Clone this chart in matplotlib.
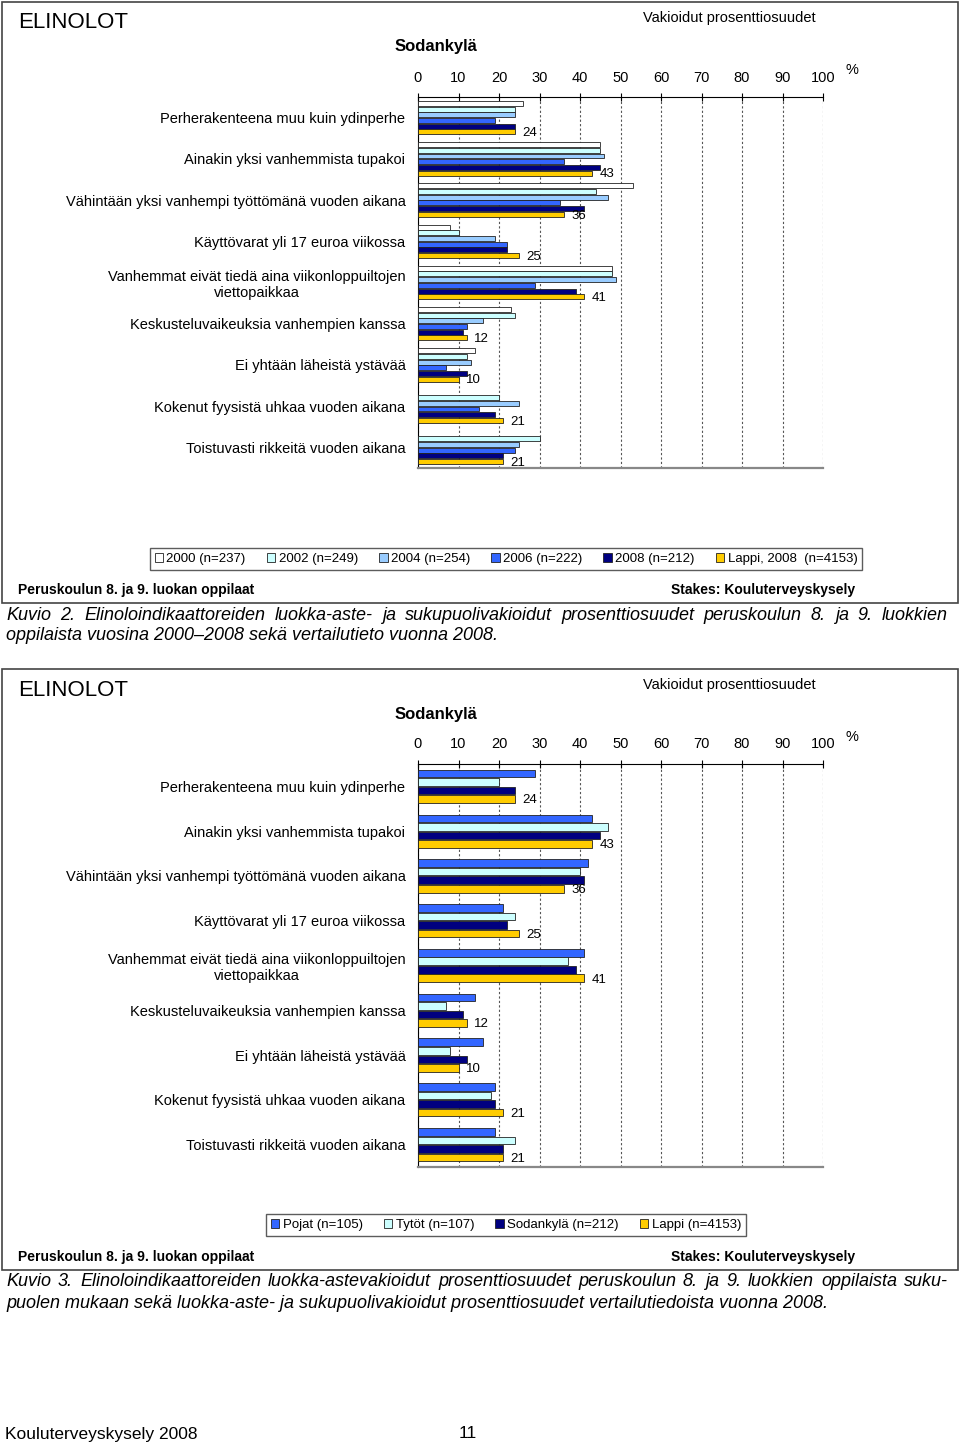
import numpy as np
import matplotlib
matplotlib.use("Agg")
import matplotlib.pyplot as plt
from matplotlib.patches import Patch, Rectangle

plt.rcParams['font.family'] = ['Liberation Sans', 'DejaVu Sans']

W, H = 960, 1444

categories = [
    "Perherakenteena muu kuin ydinperhe",
    "Ainakin yksi vanhemmista tupakoi",
    "Vähintään yksi vanhempi työttömänä vuoden aikana",
    "Käyttövarat yli 17 euroa viikossa",
    "Vanhemmat eivät tiedä aina viikonloppuiltojen\nviettopaikkaa",
    "Keskusteluvaikeuksia vanhempien kanssa",
    "Ei yhtään läheistä ystävää",
    "Kokenut fyysistä uhkaa vuoden aikana",
    "Toistuvasti rikkeitä vuoden aikana",
]

# Kuvio 2: years in Sodankylä + Lappi 2008
y2000 = [26, 45, 53, 8, 48, 23, 14, np.nan, np.nan]
y2002 = [24, 45, 44, 10, 48, 24, 12, 20, 30]
y2004 = [24, 46, 47, 19, 49, 16, 13, 25, 25]
y2006 = [19, 36, 35, 22, 29, 12, 7, 15, 24]
y2008 = [24, 45, 41, 22, 39, 11, 12, 19, 21]
lappi = [24, 43, 36, 25, 41, 12, 10, 21, 21]
labels_top = ["2000 (n=237)", "2002 (n=249)", "2004 (n=254)", "2006 (n=222)",
              "2008 (n=212)", "Lappi, 2008  (n=4153)"]

# Kuvio 3: by sex
pojat = [29, 43, 42, 21, 41, 14, 16, 19, 19]
tytot = [20, 47, 40, 24, 37, 7, 8, 18, 24]
labels_bottom = ["Pojat (n=105)", "Tytöt (n=107)", "Sodankylä (n=212)", "Lappi (n=4153)"]

C_WHITE, C_CYAN, C_LBLUE = "#FFFFFF", "#CCFFFF", "#99CCFF"
C_BLUE, C_NAVY, C_GOLD = "#3366FF", "#000080", "#FFCC00"


def box(x0, y0, x1, y1):
    # pixel box -> figure fraction [left, bottom, width, height]
    return [x0 / W, 1 - y1 / H, (x1 - x0) / W, (y1 - y0) / H]


def fx(x):
    return x / W


def fy(y):
    return 1 - y / H


fig = plt.figure(figsize=(W / 100, H / 100), dpi=100)


def justify(words, x0, x1, y, size, renderer):
    texts = [fig.text(fx(x0), fy(y), w, fontsize=size, style='italic', va='center')
             for w in words]
    widths = [t.get_window_extent(renderer).width for t in texts]
    gap = (x1 - x0 - sum(widths)) / (len(words) - 1)
    x = x0
    for t, w in zip(texts, widths):
        t.set_x(fx(x))
        x += w + gap


def panel(off, series, colors, names, pitch, bh, legend_y, legend_ncol, caption):
    fig.add_artist(Rectangle((fx(2), fy(off + 603)), (956) / W, 601 / H,
                             transform=fig.transFigure, fill=False,
                             edgecolor="#444444", lw=1.2))
    fig.text(fx(18), fy(off + 23), "ELINOLOT", fontsize=16, va='center')
    fig.text(fx(395), fy(off + 47), "Sodankylä", fontsize=12, weight='bold', va='center')
    fig.text(fx(643), fy(off + 18), "Vakioidut prosenttiosuudet", fontsize=10.5, va='center')
    fig.text(fx(845), fy(off + 70), "%", fontsize=10.5, va='center')

    top, bottom = off + 97, off + 468
    if len(series) == 4:
        top, bottom = off + 97, off + 500
    ax = fig.add_axes(box(418, top, 823, bottom))
    n = len(series)
    idx = np.arange(len(categories))
    for k, (vals, col) in enumerate(zip(series, colors)):
        ax.barh(idx + (k - (n - 1) / 2) * pitch, vals, height=bh, color=col,
                edgecolor="#222222", linewidth=0.6, zorder=3)
    ylast = idx + ((n - 1) / 2) * pitch
    for yy, v in zip(ylast, lappi):
        ax.text(v + 1.8, yy + 0.03, f"{v:.0f}", fontsize=9.5, va='center', ha='left')

    ax.set_xlim(0, 100)
    ax.set_ylim(len(categories) - 0.5, -0.5)
    ax.xaxis.tick_top()
    ax.set_xticks(np.arange(0, 101, 10))
    ax.tick_params(axis='x', direction='inout', length=6, pad=6, labelsize=10.5)
    ax.set_yticks(idx)
    ax.set_yticklabels(categories, fontsize=10.5)
    ax.tick_params(axis='y', length=0, pad=9)
    for lbl in ax.get_yticklabels():
        lbl.set_multialignment('center')
    ax.grid(axis='x', linestyle=(0, (2, 2)), color="#555555", lw=0.8, zorder=0)
    ax.spines['right'].set_visible(False)
    ax.spines['bottom'].set_color("#888888")
    ax.spines['bottom'].set_linewidth(1.6)
    ax.set_facecolor('none')

    handles = [Patch(facecolor=c, edgecolor="#222222", lw=0.6) for c in colors]
    leg = fig.legend(handles, names, loc='center', bbox_to_anchor=(fx(506), fy(legend_y)),
                     ncol=legend_ncol, fontsize=9.5, frameon=True, fancybox=False,
                     edgecolor="#333333", handlelength=0.65, handleheight=0.65,
                     handletextpad=0.25, columnspacing=1.6, borderpad=0.35,
                     borderaxespad=0)
    leg.get_frame().set_linewidth(1.0)

    fig.text(fx(18), fy(off + 590), "Peruskoulun 8. ja 9. luokan oppilaat",
             fontsize=10, weight='bold', va='center')
    fig.text(fx(855), fy(off + 590), "Stakes: Kouluterveyskysely",
             fontsize=10, weight='bold', va='center', ha='right')

    renderer = fig.canvas.get_renderer()
    justify(caption[0].split(), 6, 948, off + 615, 13, renderer)
    fig.text(fx(6), fy(off + 636), caption[1], fontsize=13, style='italic', va='center')
    return ax


panel(0, [y2000, y2002, y2004, y2006, y2008, lappi],
      [C_WHITE, C_CYAN, C_LBLUE, C_BLUE, C_NAVY, C_GOLD], labels_top,
      0.138, 0.12, 559, 6,
      ["Kuvio 2. Elinoloindikaattoreiden luokka-aste- ja sukupuolivakioidut "
       "prosenttiosuudet peruskoulun 8. ja 9. luokkien",
       "oppilaista vuosina 2000–2008 sekä vertailutieto vuonna 2008."])

panel(667, [pojat, tytot, y2008, lappi],
      [C_BLUE, C_CYAN, C_NAVY, C_GOLD], labels_bottom,
      0.19, 0.17, 1225, 4,
      ["Kuvio 3. Elinoloindikaattoreiden luokka-astevakioidut prosenttiosuudet "
       "peruskoulun 8. ja 9. luokkien oppilaista suku-",
       "puolen mukaan sekä luokka-aste- ja sukupuolivakioidut prosenttiosuudet "
       "vertailutiedoista vuonna 2008."])

fig.text(fx(5), fy(1434), "Kouluterveyskysely 2008", fontsize=12.5, va='center')
fig.text(fx(459), fy(1434), "11", fontsize=12.5, va='center')

fig.savefig("out.png", dpi=100)
